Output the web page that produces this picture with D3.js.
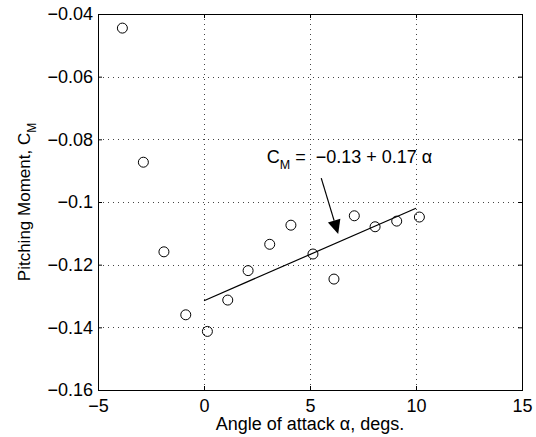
<!DOCTYPE html>
<html lang="en">
<head>
<meta charset="utf-8">
<script src="https://d3js.org/d3.v7.min.js"></script>
<style>
  body { margin: 0; background: #fff; }
  text { font-family: "Liberation Sans", Arial, sans-serif; font-size: 18px; fill: #000; }
</style>
</head>
<body>
<script>
// measured points (angle of attack in degs, pitching moment)
var alpha = [-3.85, -2.86, -1.89, -0.86, 0.16, 1.12, 2.08, 3.10, 4.10, 5.14, 6.13, 7.09, 8.07, 9.09, 10.16];
var cm = [-0.0445, -0.0873, -0.1159, -0.1360, -0.1413, -0.1313, -0.1219, -0.1135, -0.1074, -0.1166, -0.1246, -0.1044, -0.1079, -0.1061, -0.1048];

// linear fit C_M = -0.13 + 0.17 alpha (alpha in rad)
var fitX = [0, 10];
var fitY = [-0.1315, -0.1020];

// annotation arrow (start, tip) and label anchor
var arrowX = [5.53, 6.33];
var arrowY = [-0.0924, -0.1102];
var labelX = 2.96, labelY = -0.0877;

var xTicks = [-5, 0, 5, 10, 15];
var xTickLabels = ["\u22125", "0", "5", "10", "15"];
var yTicks = [-0.16, -0.14, -0.12, -0.1, -0.08, -0.06, -0.04];
var yTickLabels = ["\u22120.16", "\u22120.14", "\u22120.12", "\u22120.1", "\u22120.08", "\u22120.06", "\u22120.04"];

var W = 536, H = 437;
// note: "top" is reserved on window, so use pl/pr/pt/pb
var pl = 98, pr = 522, pt = 14, pb = 390;

var svg = d3.select("body").append("svg")
    .attr("width", W)
    .attr("height", H);

svg.append("rect").attr("width", W).attr("height", H).attr("fill", "#fff");

var x = d3.scaleLinear().domain([-5, 15]).range([pl, pr]);
var y = d3.scaleLinear().domain([-0.16, -0.04]).range([pb, pt]);

// dotted grid, skip the lines that sit on the box
var grid = svg.append("g")
    .attr("stroke", "#444")
    .attr("stroke-width", 1)
    .attr("stroke-dasharray", "1,4");
grid.selectAll("line.gx")
    .data(xTicks.slice(1, -1))
    .enter().append("line")
    .attr("x1", function (d) { return Math.round(x(d)) + 0.5; })
    .attr("x2", function (d) { return Math.round(x(d)) + 0.5; })
    .attr("y1", pt)
    .attr("y2", pb);
grid.selectAll("line.gy")
    .data(yTicks.slice(1, -1))
    .enter().append("line")
    .attr("y1", function (d) { return Math.round(y(d)) + 0.5; })
    .attr("y2", function (d) { return Math.round(y(d)) + 0.5; })
    .attr("x1", pl)
    .attr("x2", pr);

// axes, ticks point inwards like matlab
var xi = function (d, i) { return xTickLabels[i]; };
var yi = function (d, i) { return yTickLabels[i]; };

svg.append("g")
    .attr("transform", "translate(0," + pb + ")")
    .call(d3.axisBottom(x).tickValues(xTicks).tickFormat(xi).tickSizeInner(-4).tickSizeOuter(0).tickPadding(9));
svg.append("g")
    .attr("transform", "translate(0," + pt + ")")
    .call(d3.axisTop(x).tickValues(xTicks).tickFormat("").tickSizeInner(-4).tickSizeOuter(0));
svg.append("g")
    .attr("transform", "translate(" + pl + ",0)")
    .call(d3.axisLeft(y).tickValues(yTicks).tickFormat(yi).tickSizeInner(-4).tickSizeOuter(0).tickPadding(5));
svg.append("g")
    .attr("transform", "translate(" + pr + ",0)")
    .call(d3.axisRight(y).tickValues(yTicks).tickFormat("").tickSizeInner(-4).tickSizeOuter(0));

svg.selectAll(".domain").remove();
svg.selectAll(".tick text")
    .attr("font-size", null)
    .attr("font-family", null)
    .attr("fill", "#000");
svg.selectAll(".tick line").attr("stroke", "#000");

svg.append("rect")
    .attr("x", pl + 0.5)
    .attr("y", pt + 0.5)
    .attr("width", pr - pl)
    .attr("height", pb - pt)
    .attr("fill", "none")
    .attr("stroke", "#000")
    .attr("stroke-width", 1);

// fit line
svg.append("line")
    .attr("x1", x(fitX[0])).attr("y1", y(fitY[0]))
    .attr("x2", x(fitX[1])).attr("y2", y(fitY[1]))
    .attr("stroke", "#000")
    .attr("stroke-width", 1.2);

// data markers
svg.append("g")
    .selectAll("circle")
    .data(alpha)
    .enter().append("circle")
    .attr("cx", function (d) { return x(d); })
    .attr("cy", function (d, i) { return y(cm[i]); })
    .attr("r", 5)
    .attr("fill", "none")
    .attr("stroke", "#000")
    .attr("stroke-width", 1);

// arrow
var ax0 = x(arrowX[0]), ay0 = y(arrowY[0]);
var ax1 = x(arrowX[1]), ay1 = y(arrowY[1]);
var ang = Math.atan2(ay1 - ay0, ax1 - ax0);
var hl = 14, hw = 6.5;
var bx = ax1 - hl * Math.cos(ang), by = ay1 - hl * Math.sin(ang);
svg.append("line")
    .attr("x1", ax0).attr("y1", ay0)
    .attr("x2", bx).attr("y2", by)
    .attr("stroke", "#000")
    .attr("stroke-width", 1.2);
svg.append("path")
    .attr("d", "M" + ax1 + "," + ay1 +
        "L" + (bx + hw * Math.sin(ang)) + "," + (by - hw * Math.cos(ang)) +
        "L" + (bx - hw * Math.sin(ang)) + "," + (by + hw * Math.cos(ang)) + "Z")
    .attr("fill", "#000");

// equation label
var eq = svg.append("text")
    .attr("x", x(labelX))
    .attr("y", y(labelY))
    .style("white-space", "pre");
eq.append("tspan").text("C");
eq.append("tspan").attr("dy", 5.5).style("font-size", "12.5px").text("M");
eq.append("tspan").attr("dy", -5.5).text(" =  \u22120.13 + 0.17 \u03b1");

// axis labels
svg.append("text")
    .attr("x", (pl + pr) / 2)
    .attr("y", 430)
    .attr("text-anchor", "middle")
    .text("Angle of attack \u03b1, degs.");

var yl = svg.append("text")
    .attr("transform", "translate(30," + (pt + pb) / 2 + ") rotate(-90)")
    .attr("text-anchor", "middle")
    .style("font-size", "17px");
yl.append("tspan").text("Pitching Moment, C");
yl.append("tspan").attr("dy", 5.5).style("font-size", "12px").text("M");
</script>
</body>
</html>
